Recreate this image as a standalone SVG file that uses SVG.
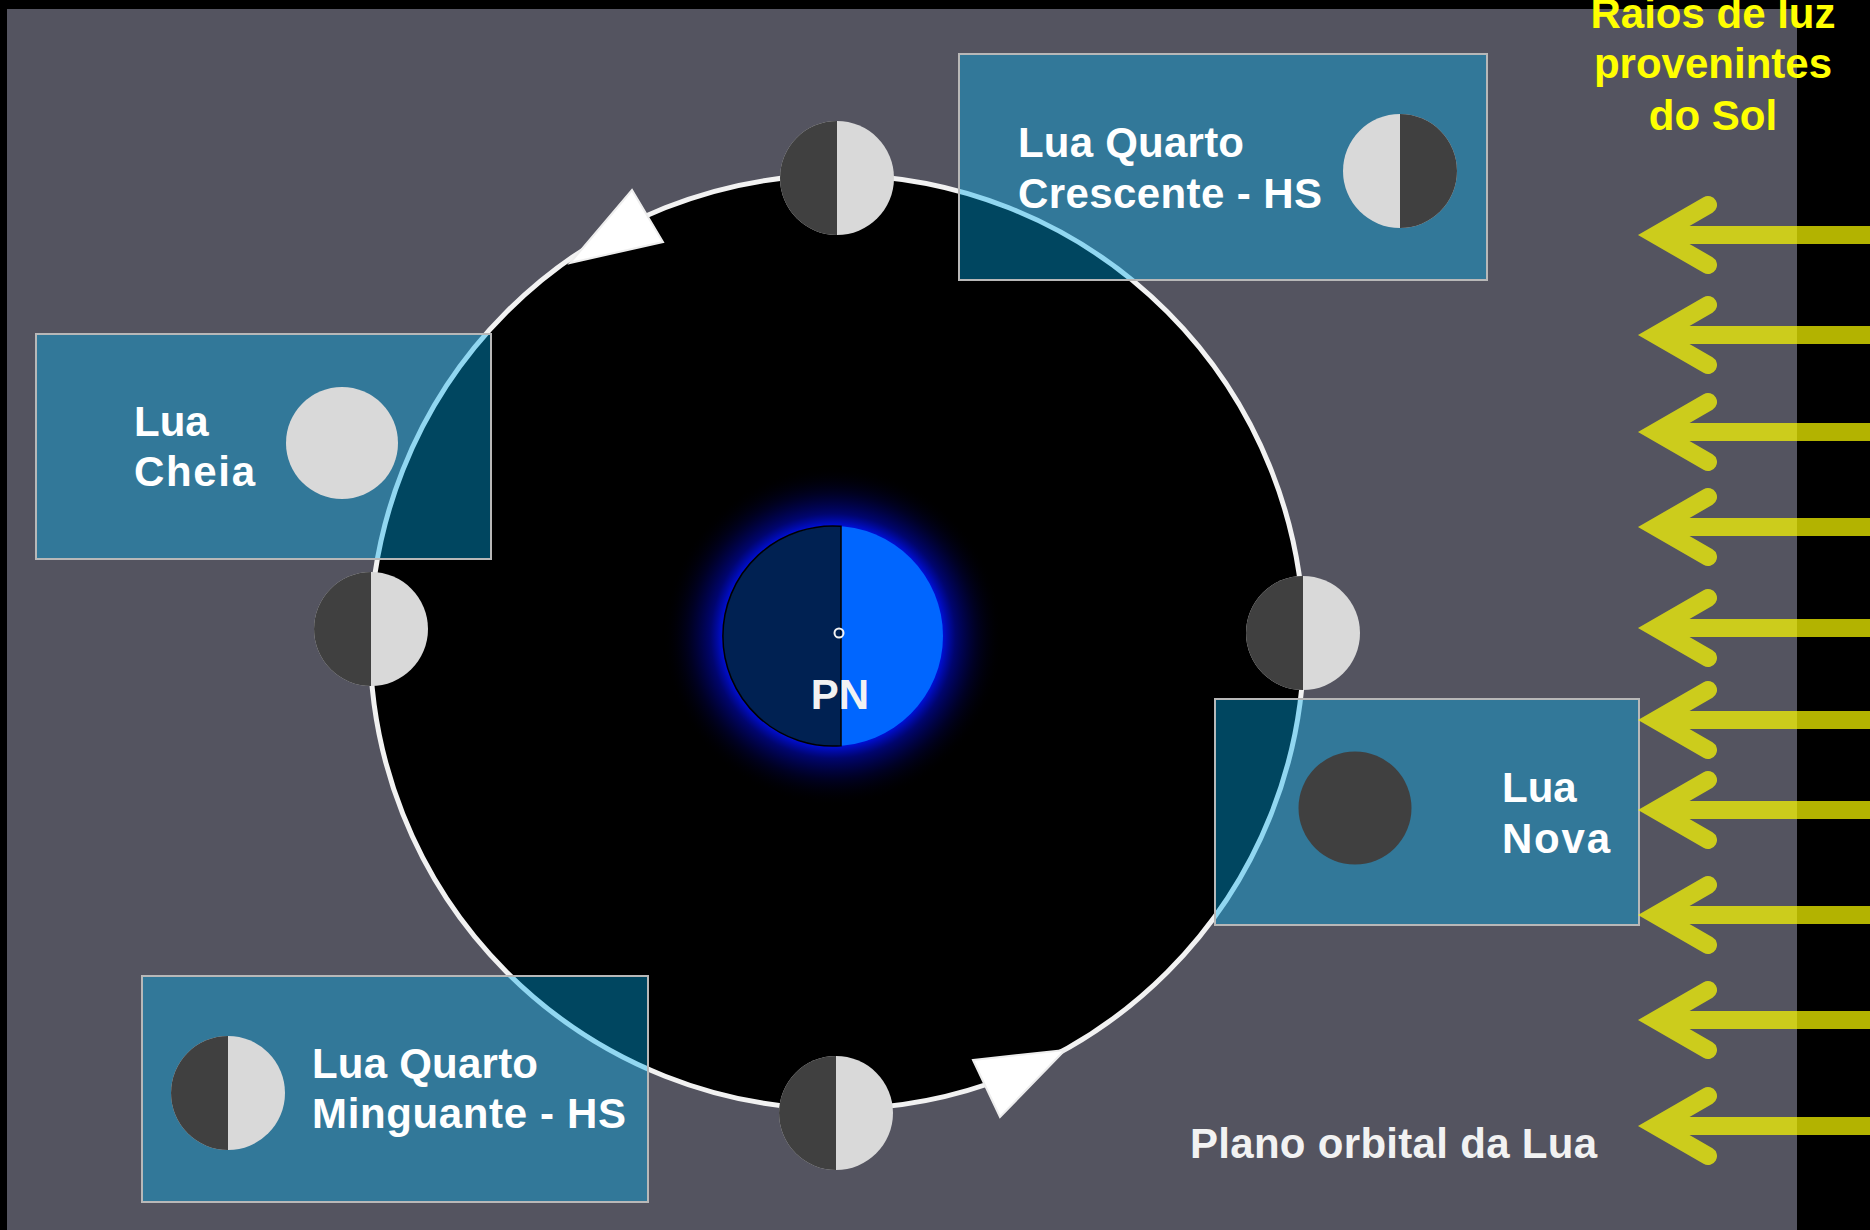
<svg xmlns="http://www.w3.org/2000/svg" width="1870" height="1230" viewBox="0 0 1870 1230">
  <defs>
    <style>
      .lbl { font-family: "Liberation Sans", Arial, sans-serif; font-weight: bold; font-size: 42px; fill: #ffffff; }
      .sun { font-family: "Liberation Sans", Arial, sans-serif; font-weight: bold; font-size: 42px; fill: #ffff00; text-anchor: middle; }
      .box { fill: #00b0f0; fill-opacity: 0.4; stroke: #b8b8b8; stroke-width: 2; }
      .light { fill: #d9d9d9; }
      .dark { fill: #404040; }
      .ray { fill: none; stroke: #ffff00; stroke-width: 18; stroke-linecap: round; stroke-linejoin: miter; }
      .head { fill: #ffffff; stroke: #eeeeee; stroke-width: 2; stroke-linejoin: miter; }
    </style>
    <radialGradient id="glow" cx="833" cy="636" r="170" gradientUnits="userSpaceOnUse">
      <stop offset="0" stop-color="#0010e0" stop-opacity="1"/>
      <stop offset="0.64" stop-color="#0010e0" stop-opacity="1"/>
      <stop offset="0.72" stop-color="#0008b8" stop-opacity="0.6"/>
      <stop offset="0.84" stop-color="#000490" stop-opacity="0.25"/>
      <stop offset="1" stop-color="#000000" stop-opacity="0"/>
    </radialGradient>
  </defs>

  <!-- background -->
  <rect x="0" y="0" width="1870" height="1230" fill="#000000"/>
  <rect x="7" y="9" width="1790" height="1221" fill="#545460"/>

  <!-- orbit -->
  <g id="connectors">
    <circle cx="837" cy="642" r="467" fill="#000000" stroke="#f2f2f2" stroke-width="5"/>
    <polygon class="head" points="570,263 663,242 632,190"/>
    <polygon class="head" points="973,1060 1065,1050 1000,1117"/>
  </g>

  <!-- Earth -->
  <g id="earth">
    <circle cx="833" cy="636" r="170" fill="url(#glow)"/>
    <circle cx="833" cy="636" r="110" fill="#0066ff"/>
    <path d="M 841 526.3 A 110 110 0 1 0 841 745.7 Z" fill="#002152" stroke="#000000" stroke-width="1.5"/>
    <circle cx="839" cy="633" r="4.5" fill="none" stroke="#f2f2f2" stroke-width="2"/>
    <text class="lbl" x="840" y="709" text-anchor="middle" style="fill:#f2f2f2">PN</text>
  </g>

  <!-- moons on the orbit -->
  <g id="moon-top">
    <circle class="light" cx="837" cy="178" r="57"/>
    <path class="dark" d="M 837 121 A 57 57 0 0 0 837 235 Z"/>
  </g>
  <g id="moon-left">
    <circle class="light" cx="371" cy="629" r="57"/>
    <path class="dark" d="M 371 572 A 57 57 0 0 0 371 686 Z"/>
  </g>
  <g id="moon-right">
    <circle class="light" cx="1303" cy="633" r="57"/>
    <path class="dark" d="M 1303 576 A 57 57 0 0 0 1303 690 Z"/>
  </g>
  <g id="moon-bottom">
    <circle class="light" cx="836" cy="1113" r="57"/>
    <path class="dark" d="M 836 1056 A 57 57 0 0 0 836 1170 Z"/>
  </g>

  <!-- phase boxes -->
  <g id="box-crescente">
    <rect class="box" x="959" y="54" width="528" height="226"/>
    <circle class="light" cx="1400" cy="171" r="57"/>
    <path class="dark" d="M 1400 114 A 57 57 0 0 1 1400 228 Z"/>
    <text class="lbl" x="1018" y="157" textLength="226">Lua Quarto</text>
    <text class="lbl" x="1018" y="208" textLength="304">Crescente - HS</text>
  </g>
  <g id="box-cheia">
    <rect class="box" x="36" y="334" width="455" height="225"/>
    <circle class="light" cx="342" cy="443" r="56"/>
    <text class="lbl" x="134" y="436">Lua</text>
    <text class="lbl" x="134" y="486" textLength="121">Cheia</text>
  </g>
  <g id="box-nova">
    <rect class="box" x="1215" y="699" width="424" height="226"/>
    <circle class="dark" cx="1355" cy="808" r="56.5"/>
    <text class="lbl" x="1502" y="802">Lua</text>
    <text class="lbl" x="1502" y="853" textLength="108">Nova</text>
  </g>
  <g id="box-minguante">
    <rect class="box" x="142" y="976" width="506" height="226"/>
    <circle class="light" cx="228" cy="1093" r="57"/>
    <path class="dark" d="M 228 1036 A 57 57 0 0 0 228 1150 Z"/>
    <text class="lbl" x="312" y="1078" textLength="226">Lua Quarto</text>
    <text class="lbl" x="312" y="1128" textLength="314">Minguante - HS</text>
  </g>

  <!-- orbital plane label -->
  <g id="plano">
    <text class="lbl" x="1190" y="1158" style="fill:#f2f2f2" textLength="407">Plano orbital da Lua</text>
  </g>

  <!-- sun rays -->
  <g id="sun-rays" opacity="0.7">
    <path class="ray" d="M 1656 235 H 1890 M 1708 205 L 1656 235 L 1708 265"/>
    <path class="ray" d="M 1656 335 H 1890 M 1708 305 L 1656 335 L 1708 365"/>
    <path class="ray" d="M 1656 432 H 1890 M 1708 402 L 1656 432 L 1708 462"/>
    <path class="ray" d="M 1656 527 H 1890 M 1708 497 L 1656 527 L 1708 557"/>
    <path class="ray" d="M 1656 628 H 1890 M 1708 598 L 1656 628 L 1708 658"/>
    <path class="ray" d="M 1656 720 H 1890 M 1708 690 L 1656 720 L 1708 750"/>
    <path class="ray" d="M 1656 810 H 1890 M 1708 780 L 1656 810 L 1708 840"/>
    <path class="ray" d="M 1656 915 H 1890 M 1708 885 L 1656 915 L 1708 945"/>
    <path class="ray" d="M 1656 1020 H 1890 M 1708 990 L 1656 1020 L 1708 1050"/>
    <path class="ray" d="M 1656 1126 H 1890 M 1708 1096 L 1656 1126 L 1708 1156"/>
  </g>

  <g id="sun-label">
    <text class="sun" x="1713" y="28">Raios de luz</text>
    <text class="sun" x="1713" y="78">provenintes</text>
    <text class="sun" x="1713" y="130">do Sol</text>
  </g>
</svg>
